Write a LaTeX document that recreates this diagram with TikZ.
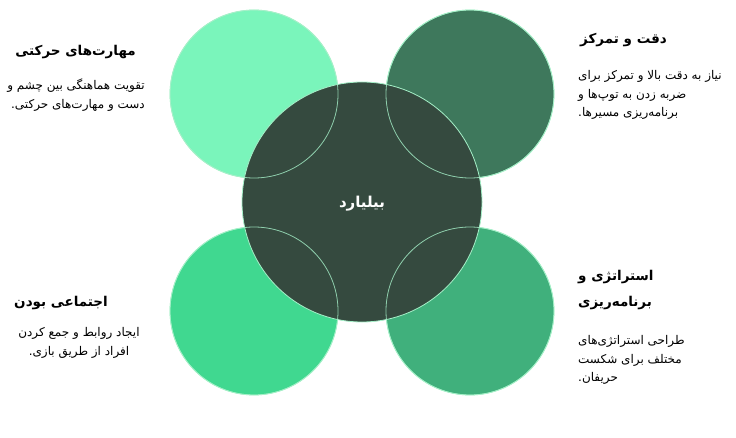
\documentclass[tikz,border=0pt]{standalone}
\usepackage{fontspec}
\newfontfamily\farsi[Script=Arabic]{DejaVu Sans}
\TeXXeTstate=1
\newcommand\fa[1]{\beginR #1\endR}
\tikzset{
  headtext/.style = {font = \farsi\bfseries\fontsize{13.5}{26}\selectfont, inner sep = 0},
  bodytext/.style = {font = \farsi\fontsize{12}{18.5}\selectfont, inner sep = 0, text = black}
}
\begin{document}
\begin{tikzpicture}[x = 1pt, y = -1pt]
\useasboundingbox (0,0) rectangle (736,438);
\pgfmathsetmacro\r{84};
\pgfmathsetmacro\R{120};
\definecolor{rimcolor}{RGB}{165,240,200}
\definecolor{mycolor}{RGB}{122,245,187}
\draw [fill = mycolor, draw = rimcolor, line width = 0.8] (254,94) circle (\r);
\definecolor{mycolor}{RGB}{62,120,92}
\draw [fill = mycolor, draw = rimcolor, line width = 0.8] (470,94) circle (\r);
\definecolor{mycolor}{RGB}{64,216,144}
\draw [fill = mycolor, draw = rimcolor, line width = 0.8] (254,311) circle (\r);
\definecolor{mycolor}{RGB}{64,176,124}
\draw [fill = mycolor, draw = rimcolor, line width = 0.8] (470,311) circle (\r);
\definecolor{mycolor}{RGB}{53,74,63}
\draw [fill = mycolor, draw = rimcolor, line width = 0.8] (362,202) circle (\R);
% rims seen through the middle disk
\foreach \cx/\cy in {254/94, 470/94, 254/311, 470/311} \draw [draw = rimcolor, line width = 0.8, opacity = 0.8] (\cx,\cy) circle (\r);
\node [headtext, text = white, font = \farsi\bfseries\fontsize{15}{18}\selectfont] (hub) at (362,204) {\fa{بیلیارد}};
\node [headtext, anchor = east] (motorhead) at (136,52) {\fa{مهارت^^^^200cهای حرکتی}};
\node [bodytext, anchor = east, align = right] (motorbody) at (145,95) {\fa{تقویت هماهنگی بین چشم و}\\\fa{دست و مهارت^^^^200cهای حرکتی.}};
\node [headtext, anchor = west] (focushead) at (580,40) {\fa{دقت و تمرکز}};
\node [bodytext, anchor = west, align = left] (focusbody) at (578,95) {\fa{نیاز به دقت بالا و تمرکز برای}\\\fa{ضربه زدن به توپ^^^^200cها و}\\\fa{برنامه^^^^200cریزی مسیرها.}};
\node [headtext] (socialhead) at (61,303) {\fa{اجتماعی بودن}};
\node [bodytext, align = center] (socialbody) at (79,343) {\fa{ایجاد روابط و جمع کردن}\\\fa{افراد از طریق بازی.}};
\node [headtext, anchor = west, align = left] (planhead) at (578,290) {\fa{استراتژی و}\\\fa{برنامه^^^^200cریزی}};
\node [bodytext, anchor = west, align = left] (planbody) at (578,360) {\fa{طراحی استراتژی^^^^200cهای}\\\fa{مختلف برای شکست}\\\fa{حریفان.}};
\end{tikzpicture}
\end{document}
